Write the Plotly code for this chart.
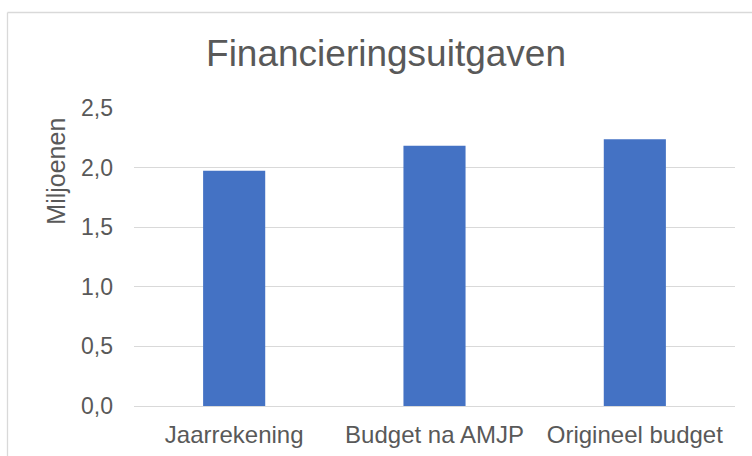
import plotly.graph_objects as go

categories = ["Jaarrekening", "Budget na AMJP", "Origineel budget"]
values = [1.974, 2.184, 2.237]
tick_vals = [0.0, 0.5, 1.0, 1.5, 2.0, 2.5]
tick_text = ["0,0", "0,5", "1,0", "1,5", "2,0", "2,5"]

FONT = "Liberation Sans, Arial, sans-serif"
TXT = "#595959"
GRID = "#d9d9d9"

fig = go.Figure(go.Bar(x=categories, y=values, marker=dict(color="#4472c4", line=dict(width=0))))

fig.update_layout(
    width=752, height=456,
    margin=dict(l=134, r=17, t=108, b=50),
    paper_bgcolor="white", plot_bgcolor="white",
    bargap=0.69,
    showlegend=False,
    font=dict(family=FONT, color=TXT),
    title=dict(text="Financieringsuitgaven", font=dict(size=37, color=TXT, family=FONT),
               xref="container", x=386/752, xanchor="center",
               yref="container", y=1-53.3/456, yanchor="middle"),
)
fig.update_xaxes(showgrid=False, showline=False, zeroline=False, ticks="", automargin=False,
                 tickfont=dict(size=24, color=TXT), ticklabelstandoff=12)
fig.update_yaxes(range=[0, 2.5], tickvals=tick_vals, ticktext=tick_text, automargin=False,
                 showgrid=True, gridcolor=GRID, gridwidth=1.3, zeroline=True, zerolinecolor=GRID,
                 zerolinewidth=1.3, showline=False, ticks="",
                 tickfont=dict(size=23, color=TXT), ticklabelstandoff=20)

fig.add_annotation(text="Miljoenen", textangle=-90, showarrow=False,
                   xref="paper", yref="paper", x=(56-134)/601, y=(406-171.7)/298,
                   xanchor="center", yanchor="middle", font=dict(size=25, color=TXT, family=FONT))

# chart border (left and top edges visible)
fig.add_shape(type="line", xref="paper", yref="paper", x0=(7.5-134)/601, x1=(7.5-134)/601,
              y0=(406-470)/298, y1=(406-12.5)/298, line=dict(color=GRID, width=1.3))
fig.add_shape(type="line", xref="paper", yref="paper", x0=(7.5-134)/601, x1=(770-134)/601,
              y0=(406-12.5)/298, y1=(406-12.5)/298, line=dict(color=GRID, width=1.3))

fig.write_html("out.html", config={"displayModeBar": False},
               post_script="document.body.style.margin='0';")
